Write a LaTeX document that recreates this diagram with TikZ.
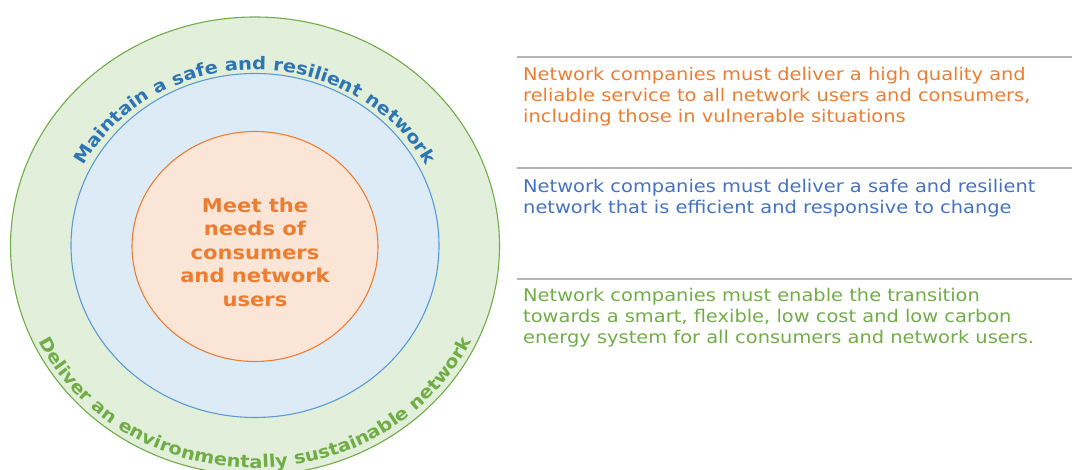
\documentclass[tikz,border=0pt]{standalone}
\usepackage{fontspec}
\setmainfont[FakeStretch=1.11]{DejaVu Sans}
\usetikzlibrary{decorations.text}

\definecolor{ringgreen}{HTML}{70AD47}
\definecolor{fillgreen}{HTML}{E2EFDA}
\definecolor{ringblue}{HTML}{5B9BD5}
\definecolor{fillblue}{HTML}{DDEBF7}
\definecolor{labelblue}{HTML}{2E75B6}
\definecolor{textblue}{HTML}{4472C4}
\definecolor{ringorange}{HTML}{ED7D31}
\definecolor{fillorange}{HTML}{FBE5D6}
\definecolor{rulegray}{HTML}{B4B4B4}

\tikzset{
  goaltext/.style={anchor=north west, inner sep=0pt, align=left,
    font=\fontsize{17.5}{21}\selectfont},
  splitline/.style={rulegray, line width=1.6pt},
  ring/.style={line width=1.1pt}
}

\begin{document}
\begin{tikzpicture}[x=1pt, y=1pt]

    \useasboundingbox (0,0) rectangle (1072,470);

    % --- Coordinates ---
    \coordinate (O) at (255,224);      % centre of the rings
    \coordinate (L1) at (517,413);     % left ends of the rules
    \coordinate (L2) at (517,302);
    \coordinate (L3) at (517,191);
    \coordinate (R1) at (1072,413);    % right ends of the rules
    \coordinate (R2) at (1072,302);
    \coordinate (R3) at (1072,191);

    % --- Rings ---
    \draw[ring, ringgreen, fill=fillgreen]
        (O) ellipse [x radius=244.5, y radius=229];
    \draw[ring, ringblue, fill=fillblue]
        (O) ++(0,0.5) ellipse [x radius=184, y radius=172];
    \draw[ring, ringorange, fill=fillorange]
        (O) ++(0,-0.5) ellipse [x radius=123, y radius=115];

    % --- Ring labels ---
    \node[ringorange, align=center, font=\fontsize{19}{23.5}\selectfont\bfseries]
        (core) at (255,218) {Meet the\\needs of\\consumers\\and network\\users};

    % top label runs clockwise, so it sits outside the blue ring
    \path[decorate, decoration={text along path, text align=center,
        text={|\fontsize{17.5}{21}\selectfont\bfseries\color{labelblue}|Maintain a safe and resilient network}}]
        (O) ++(172:192 and 176) arc[start angle=172, end angle=8, x radius=192, y radius=176];

    % bottom label runs anticlockwise, so it sits inside the green ring
    \path[decorate, decoration={text along path, text align=center,
        text={|\fontsize{17.5}{21}\selectfont\bfseries\color{ringgreen}|Deliver an environmentally sustainable network}}]
        (O) ++(185:240 and 222) arc[start angle=185, end angle=355, x radius=240, y radius=222];

    % --- Rules ---
    \draw[splitline] (L1) -- (R1);
    \draw[splitline] (L2) -- (R2);
    \draw[splitline] (L3) -- (R3);

    % --- Goals ---
    \node[goaltext, ringorange] (quality) at (523,403)
        {Network companies must deliver a high quality and\\reliable service to all network users and consumers,\\including those in vulnerable situations};
    \node[goaltext, textblue] (safety) at (523,291)
        {Network companies must deliver a safe and resilient\\network that is efficient and responsive to change};
    \node[goaltext, ringgreen] (transition) at (523,182)
        {Network companies must enable the transition\\towards a smart, flexible, low cost and low carbon\\energy system for all consumers and network users.};

\end{tikzpicture}
\end{document}
